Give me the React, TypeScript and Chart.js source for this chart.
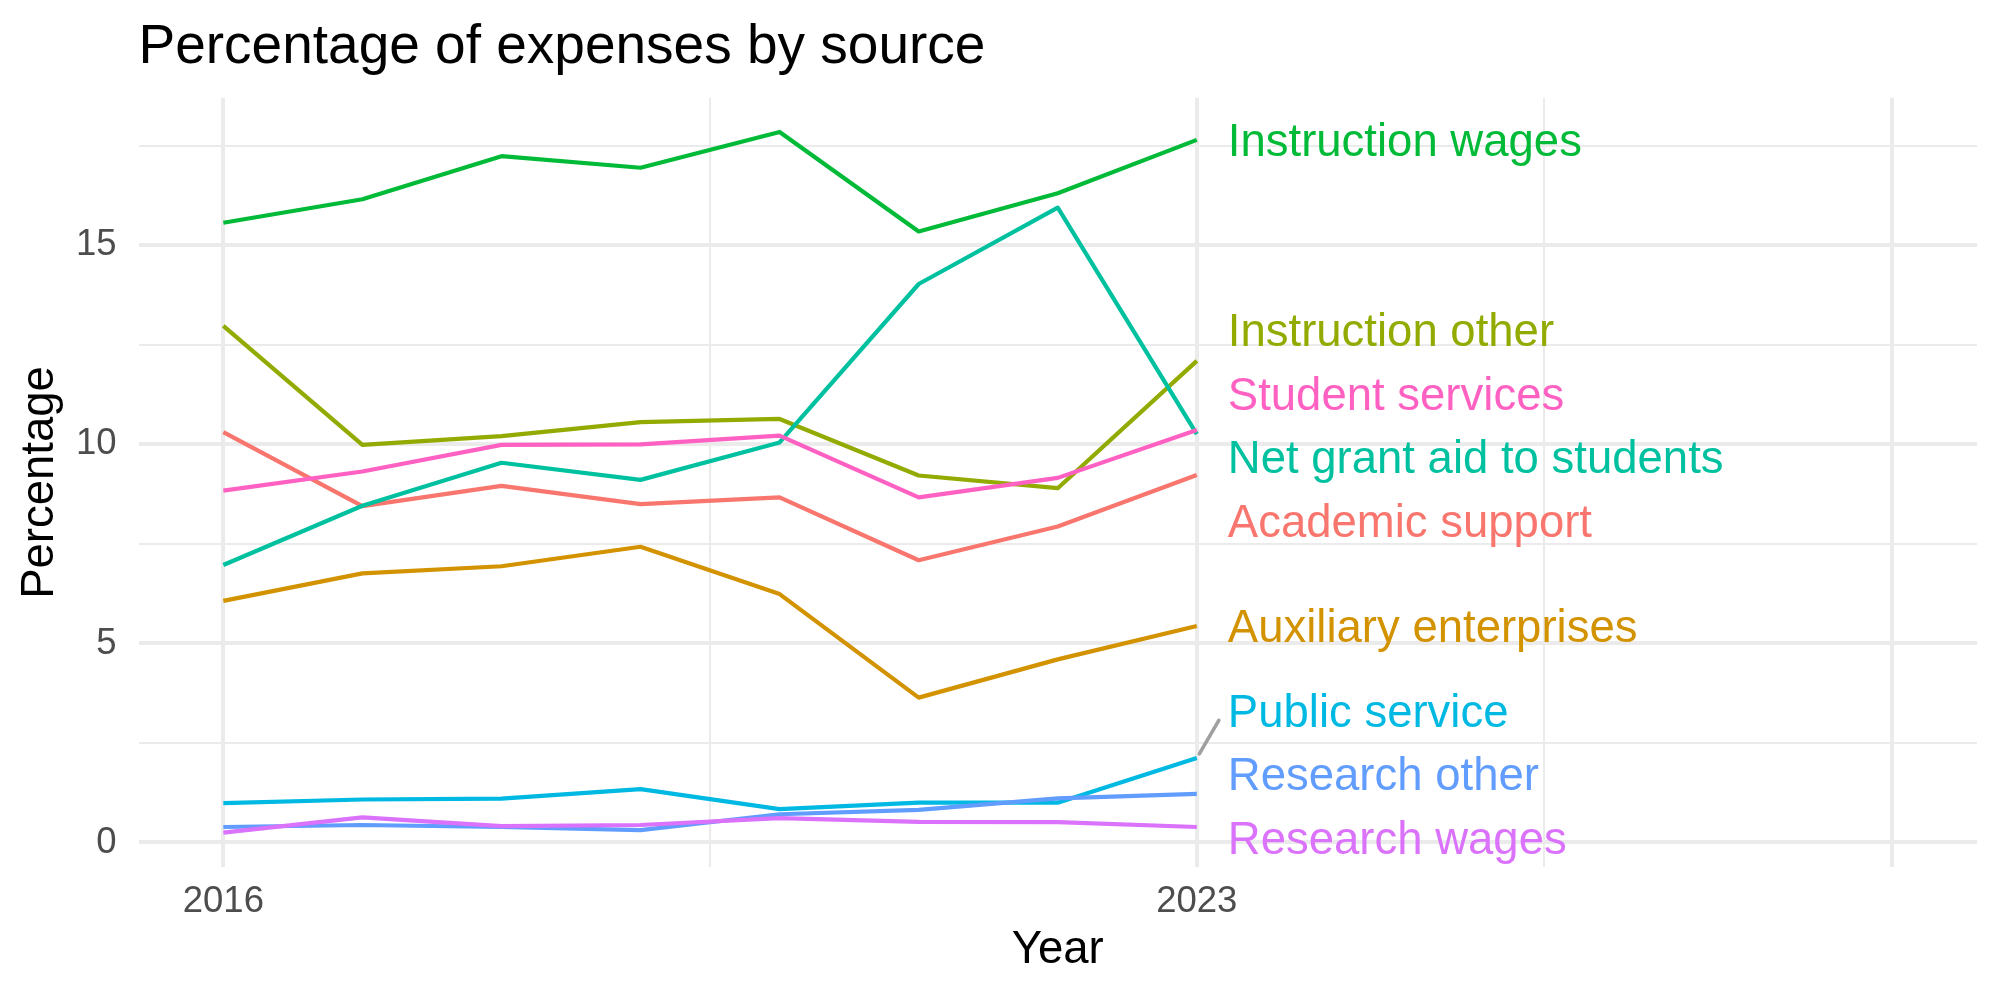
import React, { useEffect, useRef } from "react";
import { Chart, registerables } from "chart.js";

Chart.register(...registerables);

// ---- data ----
const years = [2016, 2017, 2018, 2019, 2020, 2021, 2022, 2023];

const seriesNames = [
  "Academic support",
  "Auxiliary enterprises",
  "Instruction other",
  "Instruction wages",
  "Net grant aid to students",
  "Public service",
  "Research other",
  "Research wages",
  "Student services",
];

const academicSupport = [10.31, 8.45, 8.96, 8.5, 8.67, 7.09, 7.94, 9.23];
const auxiliaryEnterprises = [6.07, 6.76, 6.94, 7.43, 6.24, 3.64, 4.6, 5.44];
const instructionOther = [12.98, 9.99, 10.21, 10.56, 10.64, 9.22, 8.9, 12.1];
const instructionWages = [15.57, 16.16, 17.24, 16.95, 17.85, 15.35, 16.31, 17.65];
const netGrantAid = [6.97, 8.46, 9.54, 9.11, 10.05, 14.03, 15.95, 10.26];
const publicService = [0.99, 1.08, 1.1, 1.34, 0.84, 1.0, 1.0, 2.12];
const researchOther = [0.39, 0.44, 0.39, 0.31, 0.71, 0.82, 1.11, 1.22];
const researchWages = [0.25, 0.63, 0.41, 0.44, 0.61, 0.52, 0.51, 0.39];
const studentServices = [8.84, 9.32, 9.99, 10.0, 10.22, 8.67, 9.16, 10.36];

const seriesValues = [
  academicSupport,
  auxiliaryEnterprises,
  instructionOther,
  instructionWages,
  netGrantAid,
  publicService,
  researchOther,
  researchWages,
  studentServices,
];

// default discrete hue palette, one colour per source
const seriesColors = [
  "#F8766D",
  "#D39200",
  "#93AA00",
  "#00BA38",
  "#00C19F",
  "#00B9E3",
  "#619CFF",
  "#DB72FB",
  "#FF61C3",
];

// axis breaks
const xMajorBreaks = [2016, 2023, 2028];
const xTickLabels = ["2016", "2023"];
const yMajorBreaks = [0, 5, 10, 15];
const yTickLabels = ["0", "5", "10", "15"];

const X_MIN = 2015.39;
const X_MAX = 2028.61;
const Y_MIN = -0.623;
const Y_MAX = 18.71;

const FONT = "'Liberation Sans', Arial, Helvetica, sans-serif";
const GRID = "#EBEBEB";
const MAJOR_W = 4;
const MINOR_W = 2;
const LINE_W = 4.2;

// majors plus the midpoints between neighbouring majors
function withMinors(majors: number[], lo: number, hi: number) {
  const out: number[] = [];
  const step = majors.length > 1 ? majors[1] - majors[0] : 1;
  const first = majors[0] - step / 2;
  if (first >= lo) out.push(first);
  for (let i = 0; i < majors.length; i++) {
    out.push(majors[i]);
    if (i < majors.length - 1) out.push((majors[i] + majors[i + 1]) / 2);
  }
  const last = majors[majors.length - 1] + step / 2;
  if (last <= hi) out.push(last);
  return out;
}

const xGridValues = (() => {
  const out: number[] = [];
  for (let i = 0; i < xMajorBreaks.length; i++) {
    out.push(xMajorBreaks[i]);
    if (i < xMajorBreaks.length - 1) out.push((xMajorBreaks[i] + xMajorBreaks[i + 1]) / 2);
  }
  return out;
})();
const yGridValues = withMinors(yMajorBreaks, Y_MIN, Y_MAX);

const isMajor = (list: number[], v: number) => list.some((m) => Math.abs(m - v) < 1e-9);

// title drawn flush with the panel's left edge
const titlePlugin = {
  id: "plotTitle",
  afterDraw(chart: any) {
    const { ctx, chartArea } = chart;
    ctx.save();
    ctx.font = `55px ${FONT}`;
    ctx.fillStyle = "#000000";
    ctx.textAlign = "left";
    ctx.textBaseline = "alphabetic";
    ctx.fillText("Percentage of expenses by source", chartArea.left, 62.7);
    ctx.restore();
  },
};

// direct labels at the end of each line, pushed apart so they do not overlap
const endLabelPlugin = {
  id: "endLabels",
  afterDatasetsDraw(chart: any) {
    const { ctx, chartArea } = chart;
    const xs = chart.scales.x;
    const ys = chart.scales.y;
    const lastIdx = years.length - 1;
    const px = xs.getPixelForValue(years[lastIdx]);
    const fontSize = 45.5;
    const gap = 63.5;
    const lo = chartArea.top + 30;
    const hi = chartArea.bottom - 30;

    const items = seriesNames.map((name, i) => {
      const py = ys.getPixelForValue(seriesValues[i][lastIdx]);
      return { name, color: seriesColors[i], py, cy: py };
    });
    items.sort((a, b) => a.py - b.py);

    for (let iter = 0; iter < 3000; iter++) {
      for (let k = 1; k < items.length; k++) {
        const d = items[k].cy - items[k - 1].cy;
        if (d < gap) {
          const s = (gap - d) / 2;
          items[k - 1].cy -= s;
          items[k].cy += s;
        }
      }
      for (const it of items) {
        it.cy = Math.min(Math.max(it.cy, lo), hi);
      }
    }

    const xText = px + 31;
    const capHalf = (0.716 * fontSize) / 2;
    ctx.save();
    ctx.font = `${fontSize}px ${FONT}`;
    ctx.textAlign = "left";
    ctx.textBaseline = "alphabetic";
    for (const it of items) {
      const ex = xText - 9;
      const ey = Math.min(Math.max(it.py, it.cy - 10), it.cy + 10);
      const dx = ex - px;
      const dy = ey - it.py;
      const len = Math.hypot(dx, dy);
      if (len > 43) {
        ctx.beginPath();
        ctx.strokeStyle = "#A0A0A0";
        ctx.lineWidth = 3.6;
        ctx.lineCap = "round";
        ctx.moveTo(px + (dx / len) * 5, it.py + (dy / len) * 5);
        ctx.lineTo(ex, ey);
        ctx.stroke();
      }
      ctx.fillStyle = it.color;
      ctx.fillText(it.name, xText, it.cy + capHalf);
    }
    ctx.restore();
  },
};

export default function App() {
  const canvasRef = useRef<HTMLCanvasElement | null>(null);

  useEffect(() => {
    document.body.style.margin = "0";
    const canvas = canvasRef.current;
    if (!canvas) return;

    const datasets = seriesNames.map((name, i) => ({
      label: name,
      data: years.map((yr, j) => ({ x: yr, y: seriesValues[i][j] })),
      borderColor: seriesColors[i],
      backgroundColor: seriesColors[i],
      borderWidth: LINE_W,
      borderJoinStyle: "round" as const,
      borderCapStyle: "butt" as const,
      pointRadius: 0,
      pointHoverRadius: 0,
      tension: 0,
      fill: false,
      order: seriesNames.length - i,
    }));

    const chart = new Chart(canvas, {
      type: "line",
      data: { datasets },
      plugins: [titlePlugin, endLabelPlugin],
      options: {
        animation: false,
        responsive: false,
        devicePixelRatio: 1,
        layout: { padding: { top: 97.7, right: 23, bottom: 0, left: 0 } },
        plugins: {
          legend: { display: false },
          tooltip: { enabled: false },
          title: { display: false },
        },
        events: [],
        scales: {
          x: {
            type: "linear",
            min: X_MIN,
            max: X_MAX,
            afterBuildTicks: (scale: any) => {
              scale.ticks = xGridValues.map((v) => ({ value: v }));
            },
            afterFit: (scale: any) => {
              scale.height = 132.7;
            },
            border: { display: false },
            grid: {
              color: GRID,
              drawTicks: false,
              lineWidth: (c: any) => (isMajor(xMajorBreaks, c.tick.value) ? MAJOR_W : MINOR_W),
            },
            ticks: {
              autoSkip: false,
              maxRotation: 0,
              minRotation: 0,
              padding: 13,
              color: "#4D4D4D",
              font: { family: FONT, size: 36.5, lineHeight: 1.2 },
              callback: (v: any) => {
                const s = String(Math.round(Number(v) * 100) / 100);
                return xTickLabels.includes(s) ? s : "";
              },
            },
            title: {
              display: true,
              text: "Year",
              color: "#000000",
              font: { family: FONT, size: 45.5, lineHeight: 1.2 },
              padding: { top: 0, bottom: 22.4 },
            },
          },
          y: {
            type: "linear",
            min: Y_MIN,
            max: Y_MAX,
            afterBuildTicks: (scale: any) => {
              scale.ticks = yGridValues.map((v) => ({ value: v }));
            },
            afterFit: (scale: any) => {
              scale.width = 138.5;
            },
            border: { display: false },
            grid: {
              color: GRID,
              drawTicks: false,
              lineWidth: (c: any) => (isMajor(yMajorBreaks, c.tick.value) ? MAJOR_W : MINOR_W),
            },
            ticks: {
              autoSkip: false,
              padding: 22,
              color: "#4D4D4D",
              font: { family: FONT, size: 36.5, lineHeight: 1.2 },
              callback: (v: any) => {
                const s = String(Math.round(Number(v) * 100) / 100);
                return yTickLabels.includes(s) ? s : "";
              },
            },
            title: {
              display: true,
              text: "Percentage",
              color: "#000000",
              font: { family: FONT, size: 45.5, lineHeight: 1.2 },
              padding: { top: 12.7, bottom: 0 },
            },
          },
        },
      },
    } as any);

    return () => {
      chart.destroy();
    };
  }, []);

  return (
    <div style={{ position: "fixed", left: 0, top: 0, width: 2000, height: 1000, background: "#ffffff" }}>
      <canvas ref={canvasRef} width={2000} height={1000} style={{ width: 2000, height: 1000 }} />
    </div>
  );
}
